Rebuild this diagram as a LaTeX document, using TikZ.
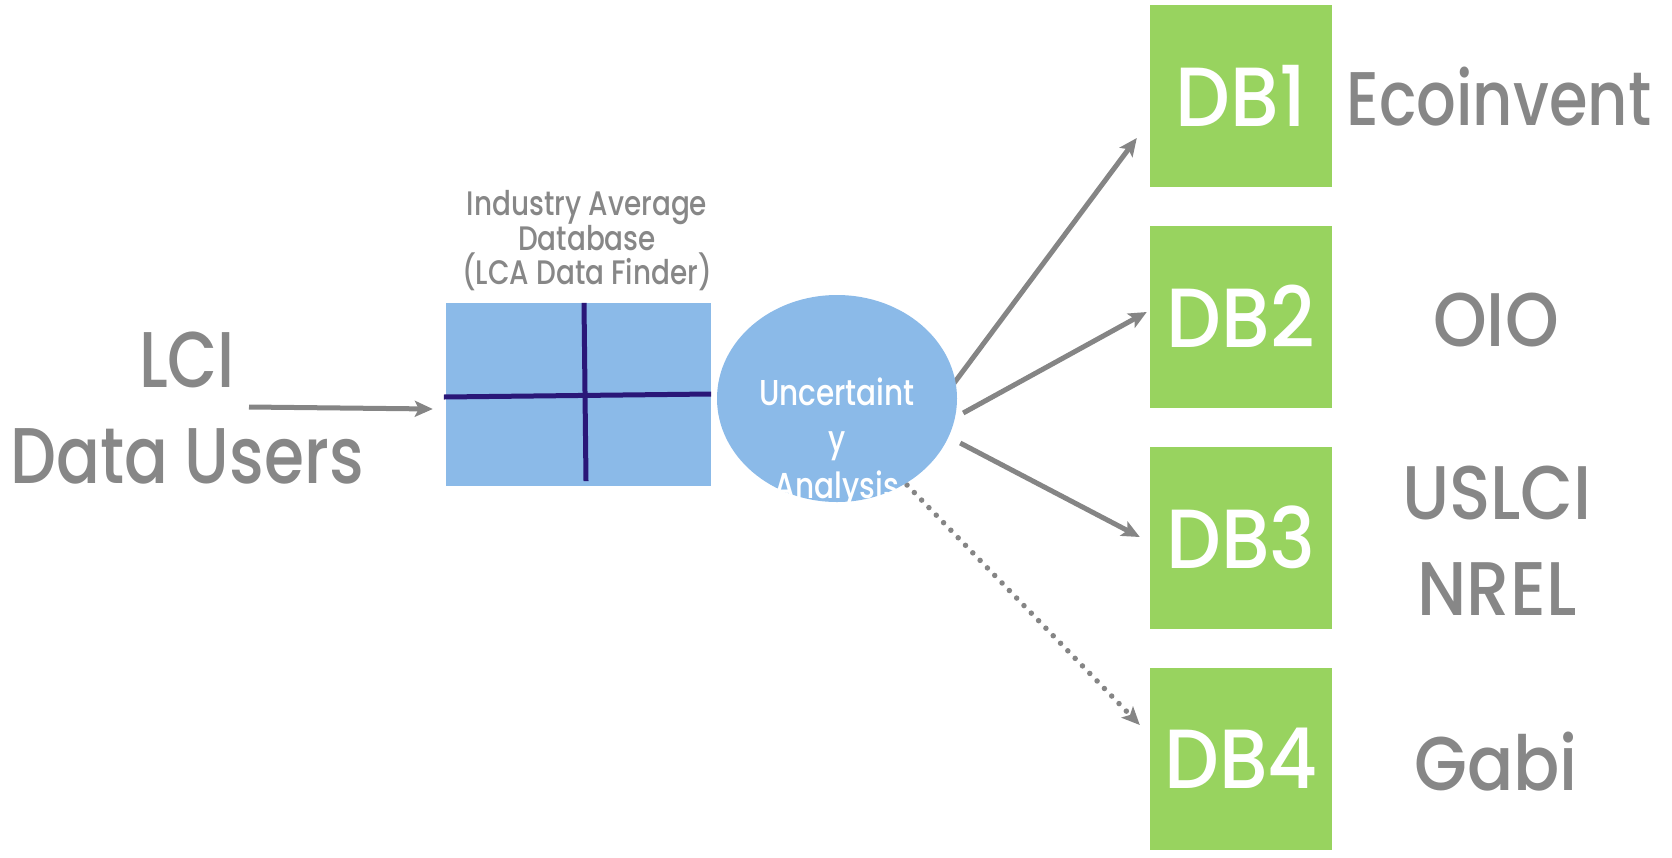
\documentclass[tikz,border=0pt]{standalone}
\usepackage{fontspec}
\setmainfont{Poppins Medium}[FakeStretch=0.82]
\newfontfamily\widefont{Poppins Medium}[FakeStretch=0.9]
\newfontfamily\dbfont{Poppins Medium}[FakeStretch=0.92]
\usetikzlibrary{arrows.meta,shapes.geometric,calc,backgrounds}
\definecolor{txtgray}{HTML}{878787}
\definecolor{dbgreen}{HTML}{98D35F}
\definecolor{lblue}{HTML}{8BBAE8}
\definecolor{navy}{HTML}{2A1778}
\definecolor{arrgray}{HTML}{858585}
\begin{document}
\begin{tikzpicture}[x=1pt,y=-1pt,
  dbbox/.style={rectangle, fill=dbgreen, minimum width=182pt, minimum height=182pt, inner sep=0pt,
    text=white, font=\dbfont\fontsize{84}{84}\selectfont},
  biglabel/.style={text=txtgray, font=\fontsize{76}{96}\selectfont, align=center, inner sep=0pt, anchor=base},
  capslabel/.style={biglabel, font=\widefont\fontsize{76}{96}\selectfont},
  titlelabel/.style={text=txtgray, font=\fontsize{34}{31}\selectfont, align=center, inner sep=0pt, anchor=base},
  elltextstyle/.style={text=white, font=\fontsize{36}{46.5}\selectfont, align=center, inner sep=0pt, anchor=base},
  conn/.style={draw=arrgray, line width=5pt, -{Stealth[length=18pt,width=16pt,inset=4pt]}},
  dotconn/.style={draw=arrgray, line width=5.5pt, line cap=round, dash pattern=on 0pt off 10.5pt,
    -{Stealth[length=18pt,width=16pt,inset=4pt]}},
  gridline/.style={draw=navy, line width=5pt},
]
\useasboundingbox (0,0) rectangle (1672,857);

% green database boxes
\node[dbbox] (db1) at (1241,96) {DB1};
\node[dbbox] (db2) at (1241,316.5) {DB2};
\node[dbbox] (db3) at (1241,537.5) {DB3};
\node[dbbox] (db4) at (1241,758.5) {DB4};

% database names
\node[biglabel] (eco) at (1499,125) {Ecoinvent};
\node[capslabel] (oio) at (1496,346) {OIO};
\node[capslabel] (uslci) at (1497,615) {USLCI\\NREL};
\node[capslabel] (gabi) at (1496,790) {Gabi};

% users
\node[biglabel, font=\fontsize{79}{96}\selectfont] (users) at (187,483) {LCI\\Data Users};
\coordinate (src) at (249,407);

% table
\node[rectangle, fill=lblue, minimum width=265pt, minimum height=183pt, inner sep=0pt] (tbl) at (578.5,394.5) {};
\draw[gridline] ($(tbl.west)+(-2,2.5)$) -- ($(tbl.east)+(0,-0.5)$);
\draw[gridline] ($(tbl.north)+(5.5,0)$) -- ($(tbl.south)+(7.5,-5)$);
\node[titlelabel] (title) at (587,284) {Industry Average\\Database\\(LCA Data Finder)};

% ellipse
\node[ellipse, fill=lblue, minimum width=240pt, minimum height=207pt, inner sep=0pt,
  path picture={\node[elltextstyle] (elltext) at ($(path picture bounding box.center)+(0,99.5)$) {Uncertaint\\y\\Analysis};}]
  (ell) at (837,398.5) {};

% connectors
\draw[conn] (src) -- ($(tbl.west)+(-13,14.5)$);
\begin{scope}[on background layer]
\draw[conn] ($(ell.east)+(-12,-3.5)$) -- ($(db1.west)+(-13,42)$);
\draw[dotconn] ($(ell.center)+(70,86.5)$) -- ($(db4.west)+(-10,-33.5)$);
\end{scope}
\draw[conn] ($(ell.east)+(6,14.5)$) -- ($(db2.west)+(-3,-4.5)$);
\draw[conn] ($(ell.east)+(3,44.5)$) -- ($(db3.west)+(-10,-0.5)$);
\end{tikzpicture}
\end{document}
